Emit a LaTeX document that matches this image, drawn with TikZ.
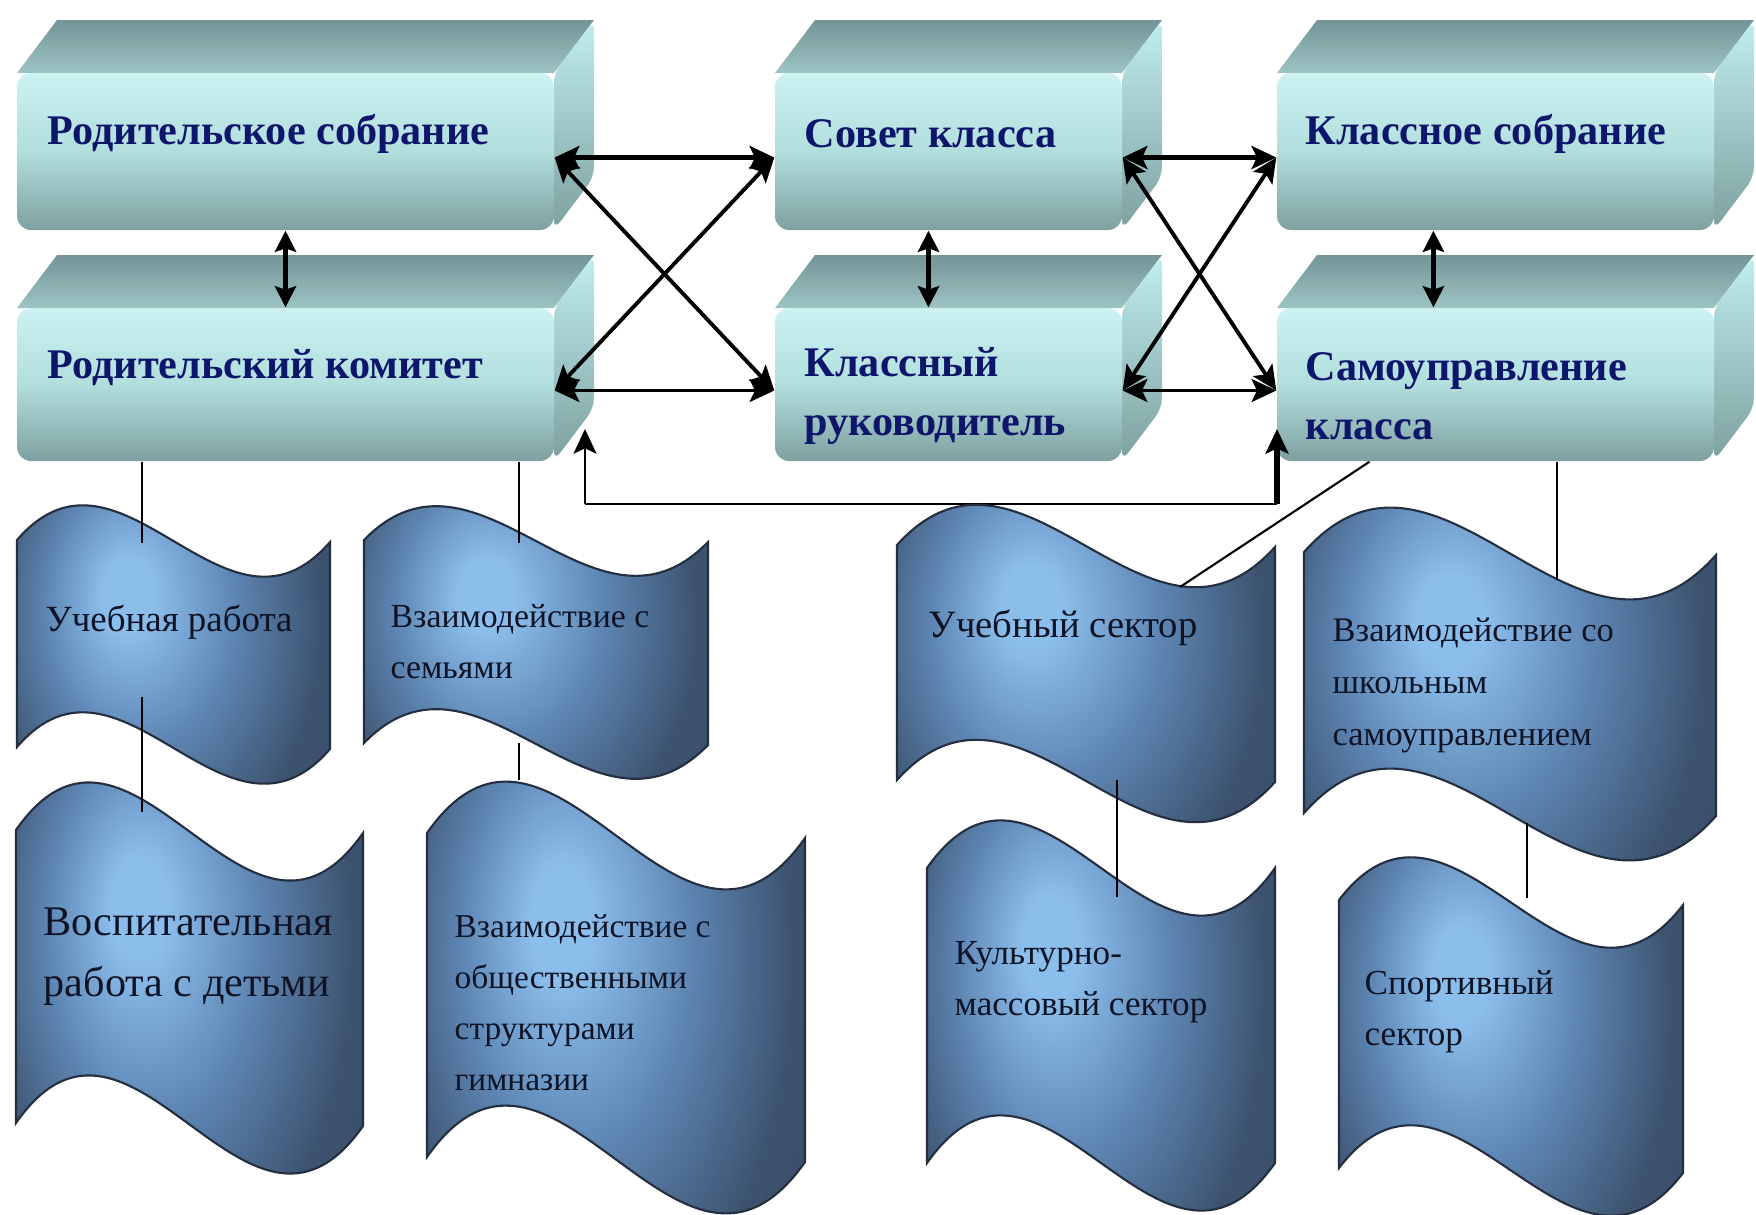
\documentclass[tikz,border=0pt]{standalone}
\usepackage{fontspec}
\setmainfont{Liberation Serif}
\usetikzlibrary{arrows.meta, calc, fit, positioning}

\definecolor{boxlight}{RGB}{204,242,242}
\definecolor{boxmid}{RGB}{178,222,222}
\definecolor{boxdark}{RGB}{126,160,160}
\definecolor{topdark}{RGB}{116,148,150}
\definecolor{toplight}{RGB}{158,196,196}
\definecolor{sidelight}{RGB}{192,238,238}
\definecolor{boxink}{RGB}{14,22,108}
\definecolor{wavelight}{RGB}{140,190,236}
\definecolor{wavemid}{RGB}{94,134,180}
\definecolor{wavedark}{RGB}{60,82,110}
\definecolor{waveedge}{RGB}{36,46,62}
\definecolor{waveink}{RGB}{14,20,38}

\pgfdeclareradialshading{wavelight}{\pgfpoint{-8bp}{6bp}}{%
    color(0bp)=(wavelight); color(4bp)=(wavelight);
    color(15bp)=(wavemid); color(27bp)=(wavedark); color(45bp)=(wavedark!85!black)}

\tikzset{
    front/.style={inner sep=0pt, rounded corners=0.14cm,
        top color=boxlight, bottom color=boxdark, middle color=boxmid},
    topface/.style={top color=topdark, bottom color=toplight},
    sideface/.style={top color=sidelight, bottom color=boxdark},
    wavefill/.style={shading=wavelight, draw=waveedge, line width=0.6pt},
    boxtext/.style={anchor=west, inner sep=0pt, align=left, text=boxink,
        font=\bfseries\fontsize{12}{16.8}\selectfont},
    wavetext/.style={anchor=west, inner sep=0pt, align=left, text=waveink},
    link/.style={black, line width=0.6pt},
    dblthick/.style={<->, line width=1.6pt},
    dbl/.style={<->, line width=1.1pt},
    dblshort/.style={{Stealth[length=6pt,width=6pt,inset=1pt]}-{Stealth[length=6pt,width=6pt,inset=1pt]}, line width=1.4pt},
    fbline/.style={black, line width=0.8pt}
}

% box with top and side bevel: name, x1, y1, x2, y2
\newcommand{\bevelbox}[5]{
    \shade[topface] (#2,#3) -- ++(40,-53) -- ({#4+40},{#3-53}) -- (#4,#3) -- cycle;
    \shade[sideface, rounded corners=0.1cm] (#4,#3) -- ++(40,-53) -- ({#4+40},{#5-53}) -- (#4,#5) -- cycle;
    \node[front, fit={(#2,#3) (#4,#5)}] (#1) {};
}
% wave banner: name, x0, y0, width, height, bend, tilt
\newcommand{\wavebox}[7]{
    \shadedraw[wavefill] (#2,#3) .. controls +({#4/3},-#6) and +({-#4/3},#6) .. ({#2+#4},{#3+(#7)})
        -- ++(0,#5) .. controls +({-#4/3},#6) and +({#4/3},-#6) .. (#2,{#3+#5}) -- cycle;
    \coordinate (#1) at ({#2+#4/2},{#3+#5/2});
}

\begin{document}
\begin{tikzpicture}[x=0.01cm, y=-0.01cm, >={Stealth[length=7pt,width=6.5pt,inset=1.5pt]}]
    \useasboundingbox (0,0) rectangle (1756,1214);

    \bevelbox{rs}{17}{73}{554}{230}
    \bevelbox{sk}{775}{73}{1122}{230}
    \bevelbox{ks}{1277}{73}{1714}{230}
    \bevelbox{rk}{17}{308}{554}{461}
    \bevelbox{kr}{775}{308}{1122}{461}
    \bevelbox{sm}{1277}{308}{1714}{461}

    \node[boxtext] (rs-t) at (47,134) {Родительское собрание};
    \node[boxtext] (rk-t) at (47,368) {Родительский комитет};
    \node[boxtext] (sk-t) at (804,134) {Совет класса};
    \node[boxtext] (kr-t) at (804,396) {Классный\\руководитель};
    \node[boxtext] (ks-t) at (1305,134) {Классное собрание};
    \node[boxtext] (sm-t) at (1305,396) {Самоуправление\\класса};

    \foreach \n in {rs,rk,sk,kr,ks,sm}{
        \coordinate (\n-e) at ([yshift=-0.06cm]\n.east);
        \coordinate (\n-w) at ([yshift=-0.06cm]\n.west);
    }

    \draw[dblthick] (rs-e) -- (sk-w);
    \draw[dbl] (rk-e) -- (kr-w);
    \draw[dbl] (rs-e) -- (kr-w);
    \draw[dbl] (rk-e) -- (sk-w);
    \draw[dblthick] (sk-e) -- (ks-w);
    \draw[dbl] (kr-e) -- (sm-w);
    \draw[dbl] (sk-e) -- (sm-w);
    \draw[dbl] (kr-e) -- (ks-w);

    \draw[dblshort] (rs.south) -- (rk.north);
    \draw[dblshort] ([xshift=-0.2cm]sk.south) -- ([xshift=-0.2cm]kr.north);
    \draw[dblshort] ([xshift=-0.62cm]ks.south) -- ([xshift=-0.62cm]sm.north);

    % feedback line
    \coordinate (fb-l) at (585,504);
    \coordinate (fb-r) at (1277,504);
    \coordinate (rk-tip) at (585,429);
    \draw[fbline] (fb-l) -- (fb-r);
    \draw[fbline, ->] (fb-l) -- (rk-tip);
    \draw[line width=1.6pt, ->] (fb-r) -- (fb-r |- rk-tip);

    \wavebox{w1}{17}{540}{313}{207}{121}{2}
    \wavebox{w2}{364}{540}{344}{203}{118}{2}
    \wavebox{w3}{16}{830}{347}{293}{166}{3}
    \wavebox{w4}{427}{833}{378}{324}{180}{5}
    \wavebox{w5}{897}{545}{378}{235}{140}{2}
    \wavebox{w6}{1304}{552}{412}{261}{155}{3}
    \wavebox{w7}{927}{868}{348}{295}{165}{0}
    \wavebox{w8}{1339}{900}{344}{268}{150}{5}

    \node[wavetext, font=\fontsize{10.5}{14}\selectfont] (w1-t) at (45,622) {Учебная работа};
    \node[wavetext, font=\fontsize{9.6}{14.5}\selectfont] (w2-t) at (390,642) {Взаимодействие с\\семьями};
    \node[wavetext, font=\fontsize{12}{17.4}\selectfont] (w3-t) at (43,957) {Воспитательная\\работа с детьми};
    \node[wavetext, font=\fontsize{9.5}{14.5}\selectfont] (w4-t) at (454,1003) {Взаимодействие с\\общественными\\структурами\\гимназии};
    \node[wavetext, font=\fontsize{11}{14}\selectfont] (w5-t) at (928,628) {Учебный сектор};
    \node[wavetext, font=\fontsize{9.8}{14.8}\selectfont] (w6-t) at (1332,685) {Взаимодействие со\\школьным\\самоуправлением};
    \node[wavetext, font=\fontsize{10}{14.5}\selectfont] (w7-t) at (954,982) {Культурно-\\массовый сектор};
    \node[wavetext, font=\fontsize{10}{14.5}\selectfont] (w8-t) at (1364,1012) {Спортивный\\сектор};

    % thin links
    \coordinate (l1) at (142,543);
    \coordinate (l2) at (519,543);
    \coordinate (l3a) at (142,697);
    \coordinate (l3b) at (142,812);
    \coordinate (l4a) at (519,743);
    \coordinate (l4b) at (519,780);
    \coordinate (l5) at (1180,587);
    \coordinate (l6) at (1557,580);
    \coordinate (l7a) at (1117,780);
    \coordinate (l7b) at (1117,897);
    \coordinate (l8a) at (1527,823);
    \coordinate (l8b) at (1527,898);
    \draw[link] (rk.south -| l1) -- (l1);
    \draw[link] (rk.south -| l2) -- (l2);
    \draw[link] (l3a) -- (l3b);
    \draw[link] (l4a) -- (l4b);
    \draw[link] ([xshift=-3.45cm]sm.south east) -- (l5);
    \draw[link] (sm.south -| l6) -- (l6);
    \draw[link] (l7a) -- (l7b);
    \draw[link] (l8a) -- (l8b);
\end{tikzpicture}
\end{document}
